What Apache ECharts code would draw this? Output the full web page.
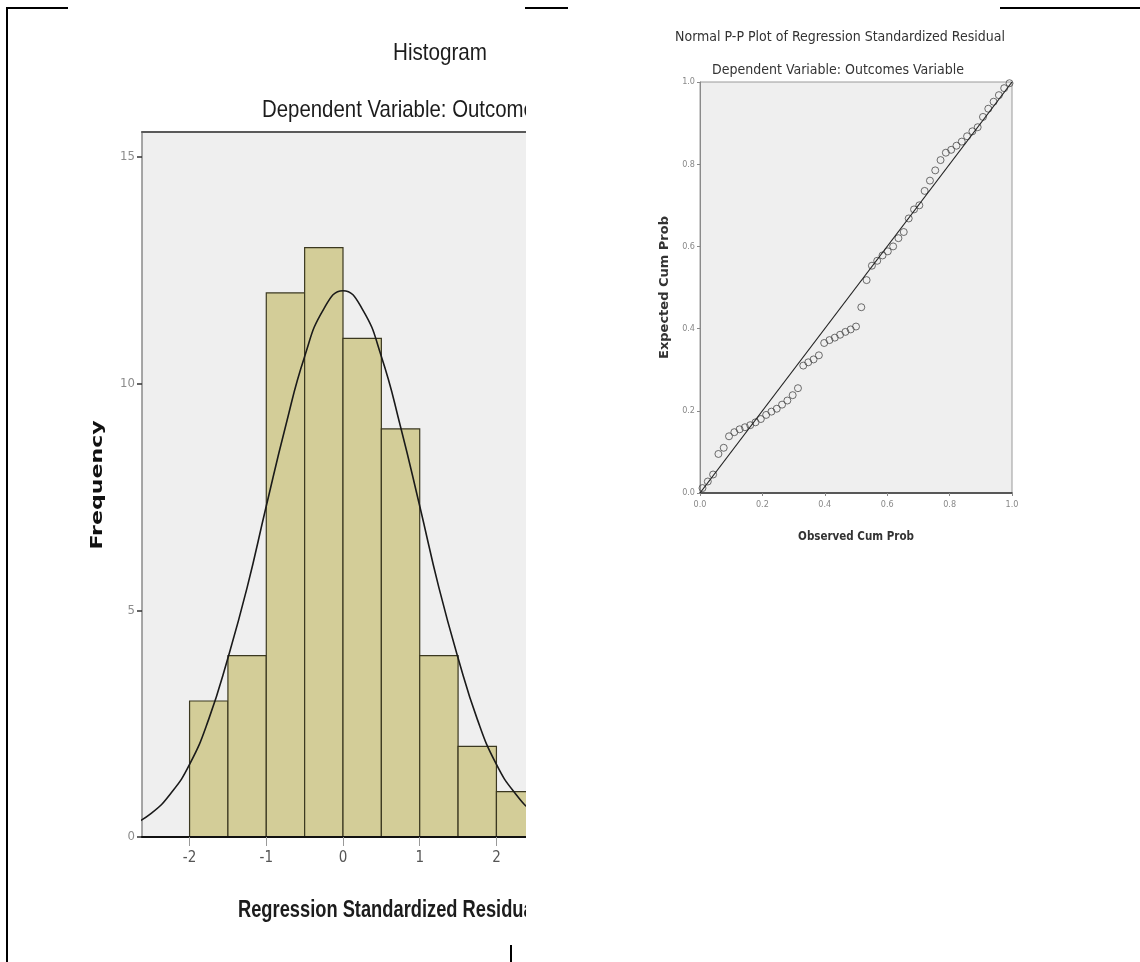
<!DOCTYPE html>
<html>
<head>
<meta charset="utf-8">
<title>Histogram and Normal P-P Plot</title>
<script src="https://cdn.jsdelivr.net/npm/echarts@6/dist/echarts.min.js"></script>
<style>
html, body { margin: 0; padding: 0; background: #fff; }
#page { position: relative; width: 1140px; height: 962px; overflow: hidden; }
#hist-chart { position: absolute; left: 0; top: 0; width: 526px; height: 962px; }
#pp-chart { position: absolute; left: 526px; top: 0; width: 614px; height: 962px; }
.rule { position: absolute; background: #000; }
</style>
</head>
<body>
<div id="page">
  <div id="hist-chart"></div>
  <div id="pp-chart"></div>
  <div class="rule" style="left:6px;top:7px;width:2px;height:955px"></div>
  <div class="rule" style="left:6px;top:7px;width:62px;height:2px"></div>
  <div class="rule" style="left:525px;top:7px;width:43px;height:2px"></div>
  <div class="rule" style="left:1000px;top:7px;width:140px;height:2px"></div>
  <div class="rule" style="left:510px;top:945px;width:2px;height:17px"></div>
</div>
<script>
// histogram of the standardized residuals
const binStarts = [-2, -1.5, -1, -0.5, 0, 0.5, 1, 1.5, 2]
const binEnds = [-1.5, -1, -0.5, 0, 0.5, 1, 1.5, 2, 2.5]
const binCounts = [3, 4, 12, 13, 11, 9, 4, 2, 1]
const histTicksX = [-2, -1, 0, 1, 2]
const histTicksY = [0, 5, 10, 15]

// normal curve
const curveX = [-2.75, -2.5, -2.25, -2, -1.75, -1.5, -1.25, -1, -0.75, -0.5, -0.25, 0,
  0.25, 0.5, 0.75, 1, 1.25, 1.5, 1.75, 2, 2.25, 2.5, 2.75]
const curveY = [0.27, 0.52, 0.95, 1.6, 2.6, 3.95, 5.5, 7.3, 9.05, 10.6, 11.65, 12.05,
  11.65, 10.6, 9.05, 7.3, 5.5, 3.95, 2.6, 1.6, 0.95, 0.52, 0.27]

// normal P-P plot
const ppObserved = [0.008, 0.025, 0.042, 0.059, 0.076, 0.093, 0.110, 0.127, 0.144, 0.161,
  0.178, 0.195, 0.212, 0.229, 0.246, 0.263, 0.280, 0.297, 0.314, 0.331,
  0.347, 0.364, 0.381, 0.398, 0.415, 0.432, 0.449, 0.466, 0.483, 0.500,
  0.517, 0.534, 0.551, 0.568, 0.585, 0.602, 0.619, 0.636, 0.653, 0.669,
  0.686, 0.703, 0.720, 0.737, 0.754, 0.771, 0.788, 0.805, 0.822, 0.839,
  0.856, 0.873, 0.890, 0.907, 0.924, 0.941, 0.958, 0.975, 0.992]
const ppExpected = [0.012, 0.028, 0.045, 0.095, 0.11, 0.138, 0.148, 0.155, 0.16, 0.165,
  0.172, 0.18, 0.19, 0.198, 0.205, 0.215, 0.225, 0.238, 0.255, 0.31,
  0.318, 0.325, 0.335, 0.365, 0.372, 0.378, 0.385, 0.392, 0.398, 0.405,
  0.452, 0.518, 0.553, 0.565, 0.578, 0.588, 0.6, 0.62, 0.635, 0.668,
  0.69, 0.7, 0.735, 0.76, 0.785, 0.81, 0.828, 0.835, 0.845, 0.855,
  0.868, 0.88, 0.89, 0.915, 0.935, 0.952, 0.968, 0.985, 0.997]
const ppTicks = [0, 0.2, 0.4, 0.6, 0.8, 1.0]
const ppLine = [[0, 0], [1, 1]]

const PLAIN = "'Liberation Sans', Arial, sans-serif"
const COND = "'DejaVu Sans Condensed', 'Liberation Sans', sans-serif"
const WIDE = "'DejaVu Sans', 'Liberation Sans', sans-serif"

// SPSS draws these in a narrow face: squeeze Liberation Sans horizontally
function narrowText (text, x, y, size, weight, scaleX, align) {
  return {
    type: 'text',
    x: x,
    y: y,
    scaleX: scaleX,
    z: 10,
    style: {
      text: text,
      font: weight + ' ' + size + 'px ' + PLAIN,
      fill: '#1c1c1c',
      textAlign: align || 'left',
      textVerticalAlign: 'middle'
    }
  }
}

let hist = echarts.init(document.getElementById('hist-chart'))
hist.setOption({
  animation: false,
  graphic: [
    narrowText('Histogram', 440, 53, 24, 'normal', 0.86, 'center'),
    narrowText('Dependent Variable: Outcomes Variable', 262, 110, 24, 'normal', 0.85),
    narrowText('Regression Standardized Residual', 238, 911, 23, 'bold', 0.795),
    {
      type: 'text',
      x: 98,
      y: 485,
      rotation: Math.PI / 2,
      scaleX: 1.38,
      z: 10,
      style: {
        text: 'Frequency',
        font: 'bold 16px ' + WIDE,
        fill: '#111',
        textAlign: 'center',
        textVerticalAlign: 'middle'
      }
    }
  ],
  grid: {
    left: 142,
    top: 132,
    width: 402,
    height: 705,
    outerBoundsMode: 'none',
    containLabel: false,
    show: true,
    backgroundColor: '#efefef',
    borderWidth: 0
  },
  xAxis: [
    {
      type: 'value',
      min: -2.62,
      max: 2.62,
      z: 5,
      axisLine: { show: true, onZero: false, lineStyle: { color: '#111', width: 2 } },
      axisTick: { show: true, customValues: histTicksX, length: 9, lineStyle: { color: '#999' } },
      axisLabel: { customValues: histTicksX, margin: 14, fontFamily: COND, fontSize: 15, color: '#555' },
      splitLine: { show: false }
    },
    {
      type: 'value',
      position: 'top',
      min: -2.62,
      max: 2.62,
      z: 5,
      axisLine: { show: true, onZero: false, lineStyle: { color: '#5a5a5a', width: 2 } },
      axisTick: { show: false },
      axisLabel: { show: false },
      splitLine: { show: false }
    }
  ],
  yAxis: {
    type: 'value',
    min: 0,
    max: 15.55,
    axisLine: { show: true, onZero: false, lineStyle: { color: '#8a8a8a', width: 1.5 } },
    axisTick: { show: true, customValues: histTicksY, length: 5, lineStyle: { color: '#333', width: 1.5 } },
    axisLabel: { customValues: histTicksY, margin: 7, fontFamily: COND, fontSize: 13, color: '#8c8c8c' },
    splitLine: { show: false }
  },
  series: [
    {
      name: 'Frequency',
      type: 'custom',
      renderItem: (params, api) => {
        let p0 = api.coord([api.value(0), 0])
        let p1 = api.coord([api.value(1), api.value(2)])
        return {
          type: 'rect',
          shape: { x: p0[0], y: p1[1], width: p1[0] - p0[0], height: p0[1] - p1[1] },
          style: { fill: '#d3cd98', stroke: '#3b3820', lineWidth: 1.2 }
        }
      },
      encode: { x: [0, 1], y: 2 },
      data: binStarts.map((s, i) => [s, binEnds[i], binCounts[i]])
    },
    {
      name: 'Normal',
      type: 'line',
      smooth: true,
      symbol: 'none',
      clip: true,
      z: 4,
      lineStyle: { color: '#1a1a1a', width: 1.6 },
      data: curveX.map((x, i) => [x, curveY[i]])
    }
  ]
})

let pp = echarts.init(document.getElementById('pp-chart'))
pp.setOption({
  animation: false,
  title: [
    {
      text: 'Normal P-P Plot of Regression Standardized Residual',
      left: 309,
      top: 25,
      textAlign: 'center',
      textStyle: { fontFamily: COND, fontSize: 14, fontWeight: 'normal', color: '#333' }
    },
    {
      text: 'Dependent Variable: Outcomes Variable',
      left: 307,
      top: 58,
      textAlign: 'center',
      textStyle: { fontFamily: COND, fontSize: 14, fontWeight: 'normal', color: '#333' }
    }
  ],
  grid: {
    left: 174,
    top: 82,
    width: 312,
    height: 411,
    show: true,
    backgroundColor: '#efefef',
    borderColor: '#9a9a9a',
    borderWidth: 1
  },
  xAxis: {
    type: 'value',
    min: 0,
    max: 1,
    interval: 0.2,
    name: 'Observed Cum Prob',
    nameLocation: 'middle',
    nameGap: 38,
    nameTextStyle: { fontFamily: COND, fontSize: 11.5, fontWeight: 'bold', color: '#333' },
    axisLine: { show: true, onZero: false, lineStyle: { color: '#333', width: 1.5 } },
    axisTick: { show: true, customValues: ppTicks, length: 3, lineStyle: { color: '#888' } },
    axisLabel: { customValues: ppTicks, formatter: v => v.toFixed(1), margin: 7, fontFamily: COND, fontSize: 9, color: '#888' },
    splitLine: { show: false }
  },
  yAxis: {
    type: 'value',
    min: 0,
    max: 1,
    interval: 0.2,
    name: 'Expected Cum Prob',
    nameLocation: 'middle',
    nameGap: 24,
    nameTextStyle: { fontFamily: WIDE, fontSize: 13, fontWeight: 'bold', color: '#333' },
    axisLine: { show: true, onZero: false, lineStyle: { color: '#8a8a8a', width: 1 } },
    axisTick: { show: true, customValues: ppTicks, length: 3, lineStyle: { color: '#888' } },
    axisLabel: { customValues: ppTicks, formatter: v => v.toFixed(1), margin: 5, fontFamily: COND, fontSize: 9, color: '#888' },
    splitLine: { show: false }
  },
  series: [
    {
      name: 'Reference',
      type: 'line',
      symbol: 'none',
      lineStyle: { color: '#222', width: 1.2 },
      data: ppLine
    },
    {
      name: 'Residuals',
      type: 'scatter',
      symbol: 'circle',
      symbolSize: 7,
      itemStyle: { color: 'rgba(0,0,0,0)', borderColor: '#4a4a4a', borderWidth: 1 },
      data: ppObserved.map((x, i) => [x, ppExpected[i]])
    }
  ]
})
</script>
</body>
</html>
